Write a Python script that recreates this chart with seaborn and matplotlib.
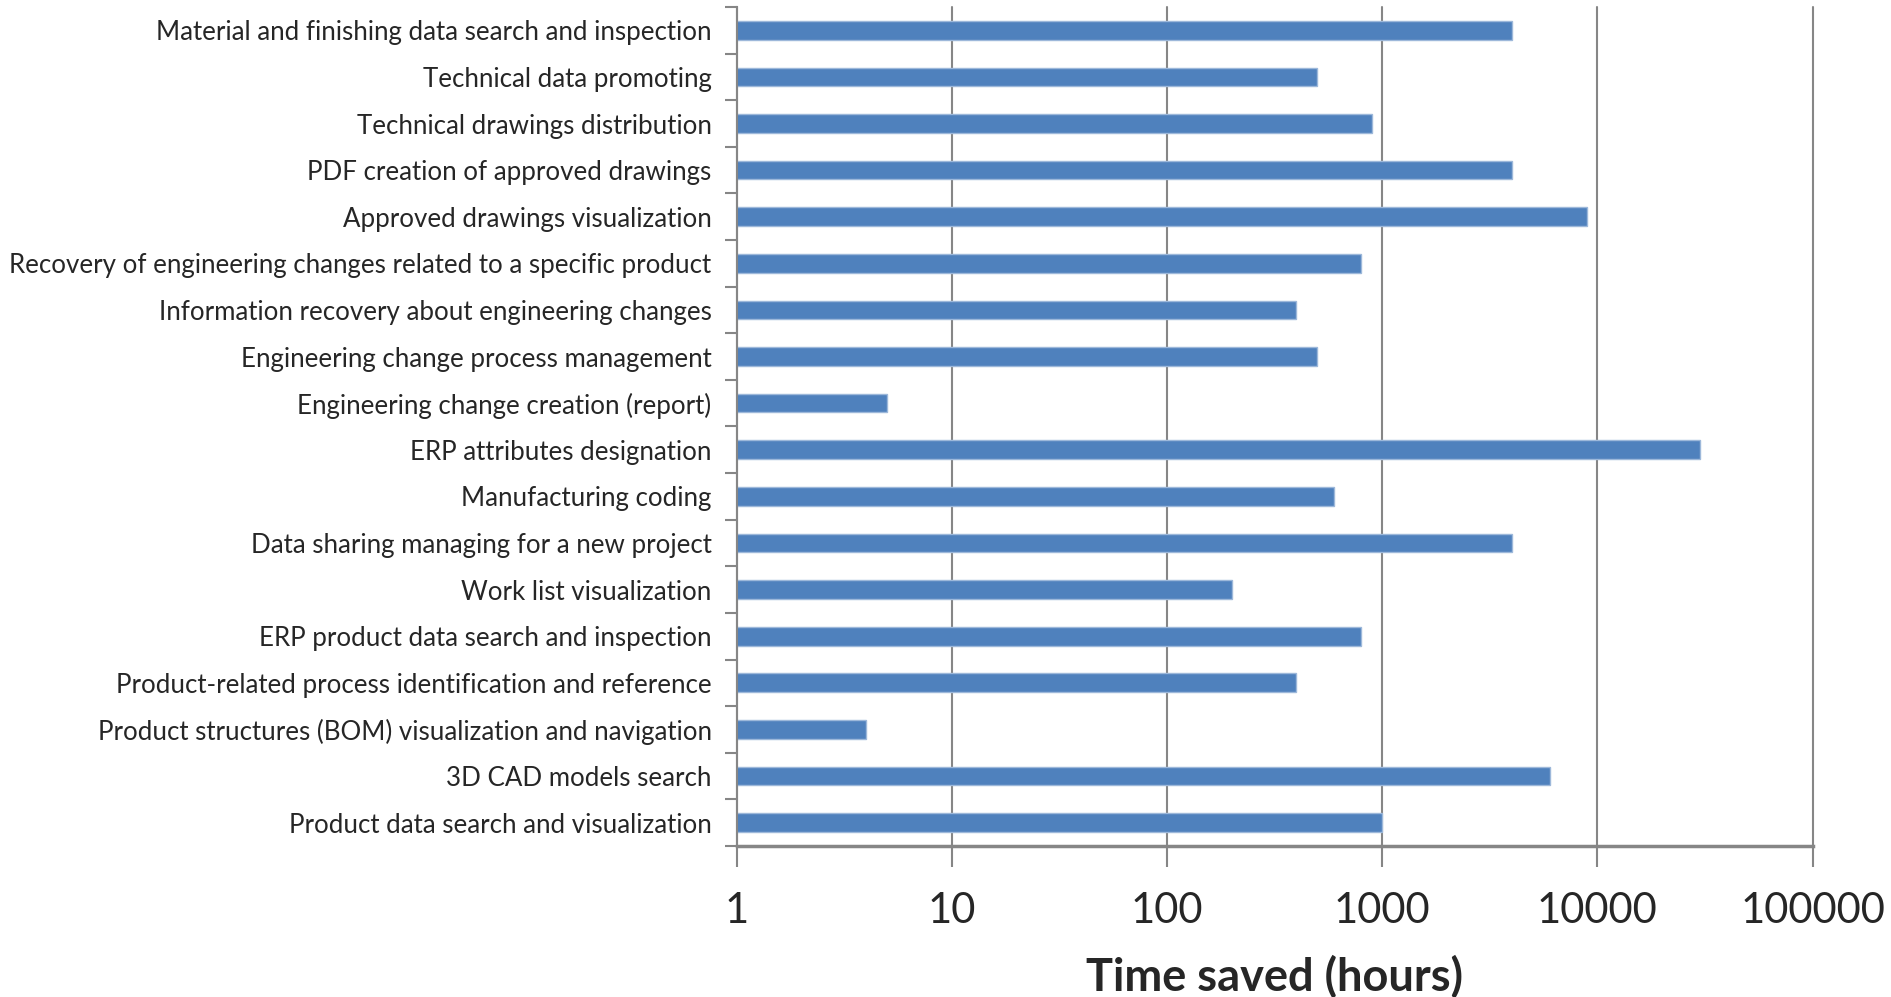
import numpy as np
import pandas as pd
import matplotlib
matplotlib.use('Agg')
import matplotlib.pyplot as plt
import seaborn as sns

# categorias (de cima para baixo) e horas economizadas
atividades = [
    'Material and finishing data search and inspection',
    'Technical data promoting',
    'Technical drawings distribution',
    'PDF creation of approved drawings',
    'Approved drawings visualization',
    'Recovery of engineering changes related to a specific product',
    'Information recovery about engineering changes',
    'Engineering change process management',
    'Engineering change creation (report)',
    'ERP attributes designation',
    'Manufacturing coding',
    'Data sharing managing for a new project',
    'Work list visualization',
    'ERP product data search and inspection',
    'Product-related process identification and reference',
    'Product structures (BOM) visualization and navigation',
    '3D CAD models search',
    'Product data search and visualization',
]
horas = [4000, 500, 900, 4000, 9000, 800, 400, 500, 5, 30000,
         600, 4000, 200, 800, 400, 4, 6000, 1000]
ticks_x = [1, 10, 100, 1000, 10000, 100000]
rotulos_x = ['1', '10', '100', '1000', '10000', '100000']

tabela = pd.DataFrame({'atividade': atividades, 'horas': horas})

sns.set_style('white')
plt.rcParams['font.family'] = ['Lato', 'DejaVu Sans']

cinza = '#868686'
fig = plt.figure(figsize=(18.91, 9.97), dpi=100)
ax = fig.add_axes([0.3895, 0.1515, 0.5690, 0.8415])

sns.barplot(data=tabela, x='horas', y='atividade', orient='h', color='#4F81BD',
            saturation=1, width=0.4, edgecolor='#9db8da', linewidth=1, ax=ax)

# escala logaritmica no eixo x
ax.set_xscale('log')
ax.set_xlim(1, 100000)
ax.set_ylim(len(atividades) - 0.5, -0.5)
ax.set_xticks(ticks_x)
ax.set_xticklabels(rotulos_x)
ax.xaxis.set_minor_locator(matplotlib.ticker.NullLocator())

# grade vertical
ax.grid(axis='x', color=cinza, linewidth=1.5)
ax.grid(axis='y', visible=False)
ax.set_axisbelow(True)
for linha in ax.get_xgridlines():
    linha.set_clip_on(False)

# ticks do eixo y nas fronteiras (estilo Excel)
ax.set_yticks(np.arange(len(atividades)))
ax.set_yticks(np.arange(len(atividades) + 1) - 0.5, minor=True)
ax.tick_params(axis='y', which='major', length=0, pad=18, labelsize=18.6)
ax.tick_params(axis='y', which='minor', length=9, width=1.5, color=cinza, left=True)
ax.tick_params(axis='x', which='major', length=15, width=1.5, color=cinza,
               bottom=True, labelsize=30, pad=18)

for lado in ['top', 'right']:
    ax.spines[lado].set_visible(False)
ax.spines['left'].set_color(cinza)
ax.spines['left'].set_linewidth(1.5)
ax.spines['bottom'].set_color(cinza)
ax.spines['bottom'].set_linewidth(2.5)

ax.set_ylabel('')
ax.set_xlabel('Time saved (hours)', fontsize=32.5, fontweight='bold', labelpad=18)

fig.savefig('out.png', dpi=100)
